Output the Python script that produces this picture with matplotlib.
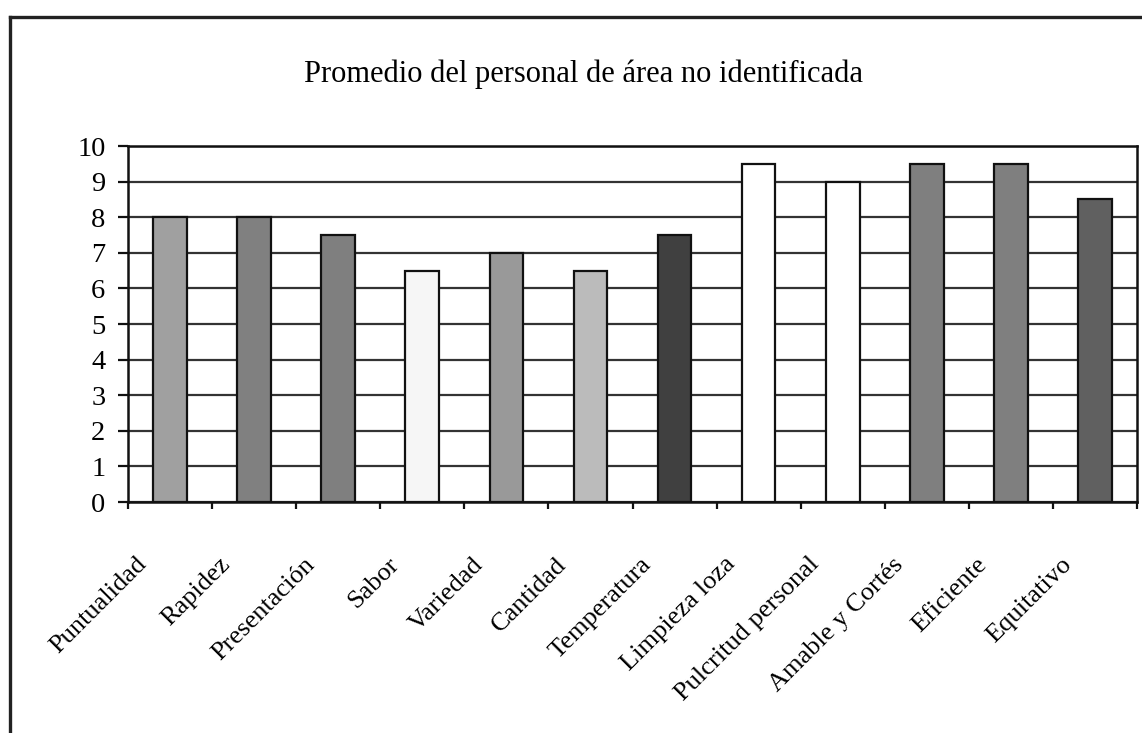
import matplotlib
matplotlib.use("Agg")
import matplotlib.pyplot as plt
from matplotlib.lines import Line2D
from matplotlib.transforms import offset_copy
import numpy as np

categories = ["Puntualidad", "Rapidez", "Presentación", "Sabor", "Variedad",
              "Cantidad", "Temperatura", "Limpieza loza", "Pulcritud personal",
              "Amable y Cortés", "Eficiente", "Equitativo"]
values = [8, 8, 7.5, 6.5, 7, 6.5, 7.5, 9.5, 9, 9.5, 9.5, 8.5]
bar_colors = ["#a0a0a0", "#808080", "#7f7f7f", "#f6f6f6", "#999999", "#bbbbbb",
              "#404040", "#ffffff", "#ffffff", "#7f7f7f", "#7f7f7f", "#606060"]
yticks = list(range(0, 11))
title = "Promedio del personal de área no identificada"

plt.rcParams["font.family"] = ["Liberation Serif", "DejaVu Serif"]

W, H = 1142, 733
fig = plt.figure(figsize=(W / 100, H / 100), dpi=100)
fig.patch.set_facecolor("white")

# frame lines around the chart
fig.add_artist(Line2D([9.5 / W, 1.0], [1 - 16.5 / H, 1 - 16.5 / H],
                      color="#222222", lw=2.4, transform=fig.transFigure))
fig.add_artist(Line2D([9.5 / W, 9.5 / W], [0.0, 1 - 16.5 / H],
                      color="#222222", lw=2.4, transform=fig.transFigure))

left, right, top, bottom = 128, 1137, 146, 502
ax = fig.add_axes([left / W, 1 - bottom / H, (right - left) / W, (bottom - top) / H])

x = np.arange(len(categories))
ax.set_axisbelow(True)
ax.yaxis.grid(True, color="#333333", lw=1.6)
ax.bar(x, values, width=0.4, color=bar_colors, edgecolor="#111111", lw=1.6, zorder=3)

ax.set_xlim(-0.5, len(categories) - 0.5)
ax.set_ylim(0, 10)
ax.set_yticks(yticks)
ax.set_yticklabels([str(v) for v in yticks], fontsize=20.5)
ax.set_xticks(np.arange(-0.5, len(categories), 1.0))
ax.set_xticklabels([])
ax.tick_params(axis="y", direction="out", length=7.2, width=1.6, pad=9, color="#111111")
ax.tick_params(axis="x", direction="out", length=5, width=1.6, color="#111111")
for s in ax.spines.values():
    s.set_color("#111111")
    s.set_linewidth(1.8)

# rotated category labels under each bar
for i, name in enumerate(categories):
    tr = offset_copy(ax.get_xaxis_transform(), fig=fig, x=-27, y=-59, units="dots")
    ax.text(i, 0, name, transform=tr, rotation=45, rotation_mode="anchor",
            ha="right", va="center", fontsize=19, clip_on=False)

fig.text(584 / W, 1 - 82 / H, title, ha="center", va="baseline", fontsize=22)

fig.savefig("out.png", dpi=100, facecolor="white")
